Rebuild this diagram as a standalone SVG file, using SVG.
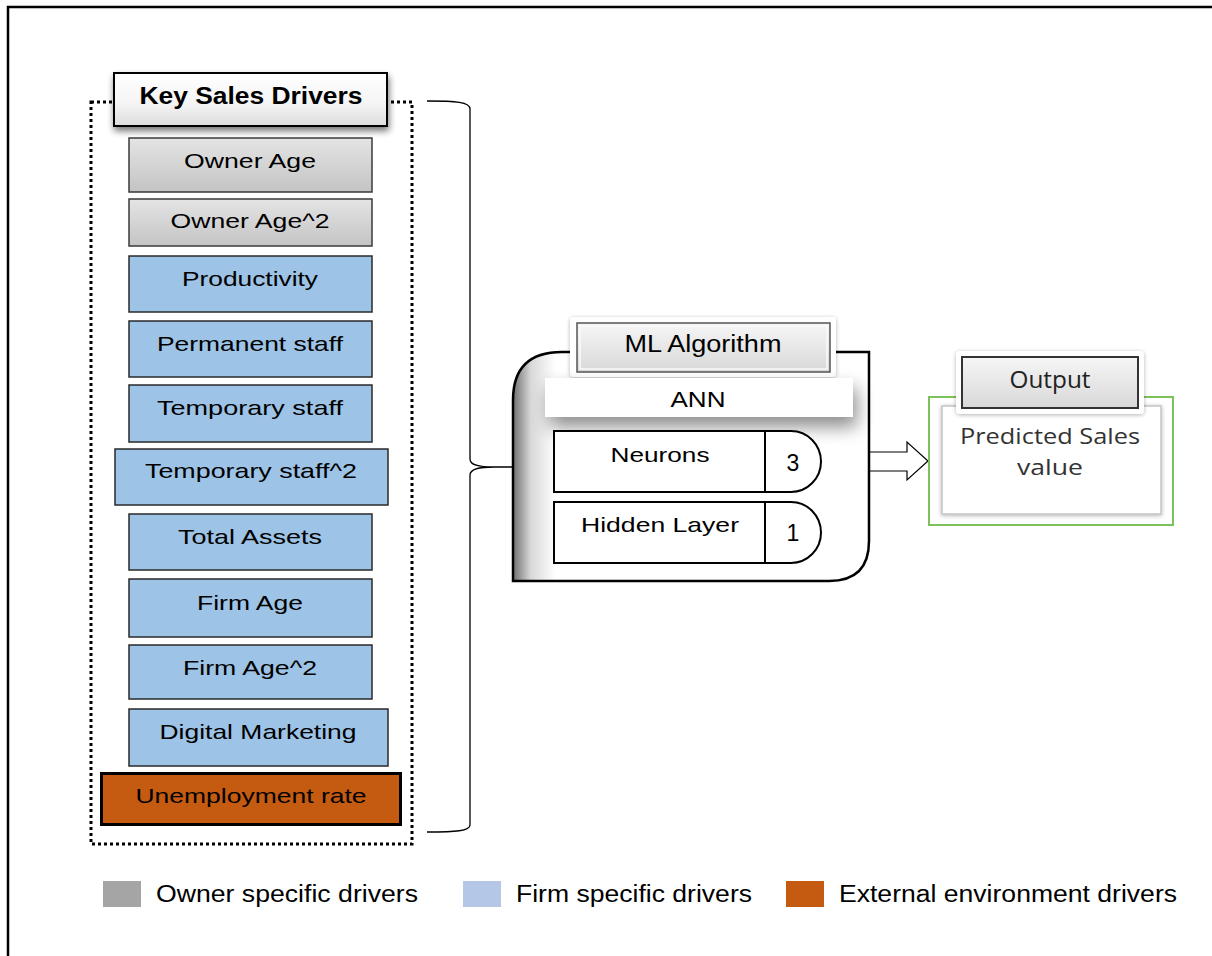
<svg xmlns="http://www.w3.org/2000/svg" width="1212" height="956" viewBox="0 0 1212 956">
<defs>
<style>
.t{font-family:"Liberation Sans",Arial,sans-serif;font-size:21px;fill:#000;text-anchor:middle}
.lg{font-family:"Liberation Sans",Arial,sans-serif;font-size:23px;fill:#000}
.o{font-family:"Open Sans","Liberation Sans",sans-serif;fill:#222;text-anchor:middle}
.grey{fill:url(#gGrey);stroke:#3a3a3a;stroke-width:1.5}
.blue{fill:#9dc3e6;stroke:#2a2a2a;stroke-width:1.5}
.blk{fill:#fff;stroke:#000;stroke-width:2}
</style>
<linearGradient id="gGrey" x1="0" y1="0" x2="0" y2="1"><stop offset="0" stop-color="#e4e4e4"/><stop offset="1" stop-color="#c4c4c4"/></linearGradient>
<linearGradient id="gHead" x1="0" y1="0" x2="0" y2="1"><stop offset="0" stop-color="#ffffff"/><stop offset="0.6" stop-color="#f4f4f4"/><stop offset="1" stop-color="#dcdcdc"/></linearGradient>
<linearGradient id="gHead2" x1="0" y1="0" x2="0" y2="1"><stop offset="0" stop-color="#f6f6f6"/><stop offset="1" stop-color="#d8d8d8"/></linearGradient>
<linearGradient id="gML" x1="0" y1="0" x2="1" y2="0"><stop offset="0" stop-color="#6e6e6e"/><stop offset="0.05" stop-color="#d8d8d8"/><stop offset="0.12" stop-color="#ffffff"/><stop offset="1" stop-color="#ffffff"/></linearGradient>
<filter id="sh" x="-20%" y="-30%" width="140%" height="170%"><feGaussianBlur in="SourceAlpha" stdDeviation="3.5"/><feOffset dx="1" dy="4"/><feComponentTransfer><feFuncA type="linear" slope="0.55"/></feComponentTransfer><feMerge><feMergeNode/><feMergeNode in="SourceGraphic"/></feMerge></filter>
<filter id="soft" x="-30%" y="-60%" width="160%" height="260%"><feGaussianBlur in="SourceAlpha" stdDeviation="9"/><feOffset dx="4" dy="10"/><feComponentTransfer><feFuncA type="linear" slope="0.45"/></feComponentTransfer><feMerge><feMergeNode/><feMergeNode in="SourceGraphic"/></feMerge></filter>
<filter id="glow" x="-20%" y="-40%" width="140%" height="180%"><feGaussianBlur in="SourceAlpha" stdDeviation="2"/><feOffset dx="0" dy="1"/><feComponentTransfer><feFuncA type="linear" slope="0.3"/></feComponentTransfer><feMerge><feMergeNode/><feMergeNode in="SourceGraphic"/></feMerge></filter>
</defs>
<rect x="0" y="0" width="1212" height="956" fill="#fff"/>
<path d="M8,956 V7 H1212" fill="none" stroke="#000" stroke-width="2.5"/>

<g id="drivers-frame">
<rect x="91" y="102" width="321" height="742" fill="none" stroke="#000" stroke-width="3" stroke-dasharray="3,3"/>
</g>
<g id="key-sales-drivers">
<rect x="114" y="73" width="273" height="53" fill="url(#gHead)" stroke="#000" stroke-width="2" filter="url(#sh)"/>
<text x="251" y="104" class="t" style="font-weight:bold;font-size:23px" textLength="223" lengthAdjust="spacingAndGlyphs">Key Sales Drivers</text>
</g>
<g id="owner-age"><rect x="129" y="138" width="243" height="54" class="grey"/><text x="250" y="168" class="t" textLength="132" lengthAdjust="spacingAndGlyphs">Owner Age</text></g>
<g id="owner-age2"><rect x="129" y="199" width="243" height="47" class="grey"/><text x="250" y="228" class="t" textLength="159" lengthAdjust="spacingAndGlyphs">Owner Age^2</text></g>
<g id="productivity"><rect x="129" y="256" width="243" height="56" class="blue"/><text x="250" y="286" class="t" textLength="136" lengthAdjust="spacingAndGlyphs">Productivity</text></g>
<g id="permanent-staff"><rect x="129" y="321" width="243" height="56" class="blue"/><text x="250" y="351" class="t" textLength="186" lengthAdjust="spacingAndGlyphs">Permanent staff</text></g>
<g id="temporary-staff"><rect x="129" y="385" width="243" height="57" class="blue"/><text x="250" y="415" class="t" textLength="186" lengthAdjust="spacingAndGlyphs">Temporary staff</text></g>
<g id="temporary-staff2"><rect x="115" y="449" width="273" height="56" class="blue"/><text x="251" y="478" class="t" textLength="212" lengthAdjust="spacingAndGlyphs">Temporary staff^2</text></g>
<g id="total-assets"><rect x="129" y="514" width="243" height="56" class="blue"/><text x="250" y="544" class="t" textLength="144" lengthAdjust="spacingAndGlyphs">Total Assets</text></g>
<g id="firm-age"><rect x="129" y="579" width="243" height="58" class="blue"/><text x="250" y="610" class="t" textLength="106" lengthAdjust="spacingAndGlyphs">Firm Age</text></g>
<g id="firm-age2"><rect x="129" y="645" width="243" height="54" class="blue"/><text x="250" y="675" class="t" textLength="134" lengthAdjust="spacingAndGlyphs">Firm Age^2</text></g>
<g id="digital-marketing"><rect x="129" y="709" width="259" height="57" class="blue"/><text x="258" y="739" class="t" textLength="197" lengthAdjust="spacingAndGlyphs">Digital Marketing</text></g>
<g id="unemployment-rate"><rect x="101.5" y="773.5" width="299" height="51" fill="#c55a11" stroke="#000" stroke-width="3"/><text x="251" y="803" class="t" textLength="231" lengthAdjust="spacingAndGlyphs">Unemployment rate</text></g>

<g id="connectors" fill="none" stroke="#000">
<path d="M427,101 C456,101 470,102 470,109 L470,459 C470,465 478,467 494,467 L514,467 M494,467 C478,467 470,469 470,475 L470,825 C470,831 456,832 427,832" stroke-width="1.3"/>
<path d="M869,452 H907 V442 L928,461 L907,480 V471 H869" fill="#fff" stroke-width="1.2"/>
</g>

<g id="ml-algorithm">
<path d="M562,352 H869 V541 Q869,581 829,581 H513 V400 Q513,352 562,352 Z" fill="url(#gML)" stroke="#000" stroke-width="2.5"/>
<rect x="570" y="317" width="266" height="60" rx="4" fill="#fff" filter="url(#glow)"/>
<rect x="577" y="323" width="253" height="49" fill="url(#gHead2)" stroke="#555" stroke-width="1.5"/>
<rect x="580" y="326" width="247" height="43" fill="none" stroke="#fafafa" stroke-width="1.5"/>
<text x="703" y="352" class="t" style="font-size:23px" textLength="157" lengthAdjust="spacingAndGlyphs">ML Algorithm</text>
<rect x="545" y="378" width="308" height="39" fill="#fff" filter="url(#soft)"/>
<text x="698" y="407" class="t" style="font-size:22px" textLength="55" lengthAdjust="spacingAndGlyphs">ANN</text>
</g>
<g id="neurons">
<path d="M554,431 H791 A30,30.5 0 0 1 791,492 H554 Z" class="blk"/>
<line x1="765" y1="431" x2="765" y2="492" stroke="#000" stroke-width="2"/>
<text x="660" y="462" class="t" textLength="99" lengthAdjust="spacingAndGlyphs">Neurons</text>
<text x="793" y="471" class="t" style="font-size:23px">3</text>
</g>
<g id="hidden-layer">
<path d="M554,502 H791 A30,30.5 0 0 1 791,563 H554 Z" class="blk"/>
<line x1="765" y1="502" x2="765" y2="563" stroke="#000" stroke-width="2"/>
<text x="660" y="532" class="t" textLength="158" lengthAdjust="spacingAndGlyphs">Hidden Layer</text>
<text x="793" y="541" class="t" style="font-size:23px">1</text>
</g>

<g id="output">
<rect x="929" y="397" width="244" height="128" fill="#fff" stroke="#7cc159" stroke-width="2"/>
<rect x="942" y="406" width="219" height="108" fill="#fff" stroke="#c4c4c4" stroke-width="1.5" filter="url(#glow)"/>
<rect x="956" y="351" width="188" height="63" rx="4" fill="#fff" filter="url(#glow)"/>
<rect x="962" y="357" width="176" height="51" fill="url(#gHead2)" stroke="#333" stroke-width="2"/>
<text x="1050" y="388" class="o" style="font-size:23px" textLength="81" lengthAdjust="spacingAndGlyphs">Output</text>
<text x="1050" y="444" class="o" style="font-size:22px;fill:#333" textLength="180" lengthAdjust="spacingAndGlyphs">Predicted Sales</text>
<text x="1050" y="475" class="o" style="font-size:22px;fill:#333" textLength="66" lengthAdjust="spacingAndGlyphs">value</text>
</g>

<g id="legend">
<rect x="103" y="881" width="38" height="26" fill="#a5a5a5"/>
<text x="156" y="902" class="lg" textLength="262" lengthAdjust="spacingAndGlyphs">Owner specific drivers</text>
<rect x="463" y="881" width="38" height="26" fill="#b4c7e7"/>
<text x="516" y="902" class="lg" textLength="236" lengthAdjust="spacingAndGlyphs">Firm specific drivers</text>
<rect x="786" y="881" width="38" height="26" fill="#c55a11"/>
<text x="839" y="902" class="lg" textLength="338" lengthAdjust="spacingAndGlyphs">External environment drivers</text>
</g>
</svg>
